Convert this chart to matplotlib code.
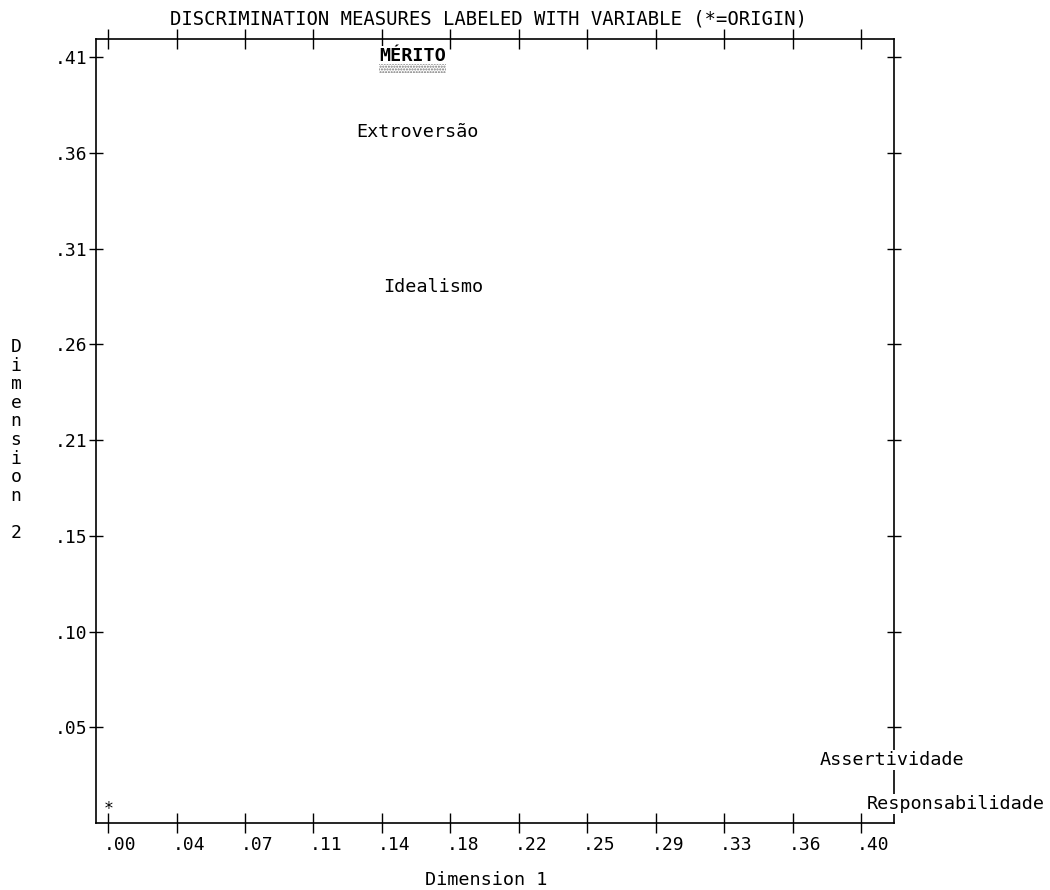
import matplotlib
matplotlib.use('Agg')
import matplotlib.pyplot as plt
import matplotlib.transforms as mtransforms
from matplotlib.patches import Rectangle
import numpy as np

plt.rcParams['font.family'] = ['DejaVu Sans Mono', 'DejaVu Sans']
plt.rcParams['font.size'] = 13

# discrimination measures
variables = ['MÉRITO', 'Extroversão', 'Idealismo', 'Assertividade', 'Responsabilidade']
dim1 = [0.144, 0.132, 0.146, 0.378, 0.403]
dim2 = [0.412, 0.371, 0.288, 0.034, 0.010]

x_labels = ['.00', '.04', '.07', '.11', '.14', '.18', '.22', '.25', '.29', '.33', '.36', '.40']
y_labels = ['.05', '.10', '.15', '.21', '.26', '.31', '.36', '.41']
x_ticks = np.linspace(0.0, 0.40, len(x_labels))
y_ticks = np.linspace(0.36 / 7, 0.36 * 8 / 7, len(y_labels))

fig = plt.figure(figsize=(10.5, 8.9), dpi=100)
ax = fig.add_axes([96 / 1050, 67 / 890, 798 / 1050, 784 / 890])
ax.set_xlim(-0.0064, 0.4175)
ax.set_ylim(0.0, 0.4211)

for s in ax.spines.values():
    s.set_linewidth(1.2)
    s.set_color('black')

ax.set_xticks(x_ticks)
ax.set_xticklabels(x_labels)
ax.set_yticks(y_ticks)
ax.set_yticklabels(y_labels)
ax.tick_params(axis='x', direction='inout', length=14, width=1, top=True, bottom=True,
               labeltop=False, pad=2)
ax.tick_params(axis='y', direction='inout', length=10, width=1, left=True, right=True,
               labelright=False, pad=1)
off = mtransforms.ScaledTranslation(-4 / 100, 0, fig.dpi_scale_trans)
for lab in ax.get_xticklabels():
    lab.set_ha('left')
    lab.set_transform(lab.get_transform() + off)

# origin marker
ax.annotate('*', xy=(0, 0), xytext=(0.5, 10), textcoords='offset points',
            ha='center', va='center', fontsize=12)

texts = []
for name, x, y in zip(variables, dim1, dim2):
    bold = name.isupper()
    t = ax.text(x, y, name, ha='left', va='center', zorder=5, clip_on=False,
                fontsize=13.3, fontweight='bold' if bold else 'normal',
                bbox=dict(boxstyle='square,pad=0.05', fc='white', ec='none'))
    texts.append(t)

fig.text(488 / 1050, (890 - 19) / 890, 'DISCRIMINATION MEASURES LABELED WITH VARIABLE (*=ORIGIN)',
         ha='center', va='center', fontsize=13.6)
fig.text(486 / 1050, 10 / 890, 'Dimension 1', ha='center', va='center', fontsize=13.3)
fig.text(16 / 1050, (890 - 440) / 890, '\n'.join('Dimension 2'), ha='center', va='center',
         linespacing=1.04)

# dotted highlight under the bold label
fig.canvas.draw()
inv = fig.transFigure.inverted()
for t in texts:
    if t.get_fontweight() == 'bold':
        bb = t.get_window_extent()
        (x0, y0), (x1, y1) = inv.transform([(bb.x0, bb.y0 - 8), (bb.x1, bb.y0 + 1)])
        fig.patches.append(Rectangle((x0, y0), x1 - x0, y1 - y0, transform=fig.transFigure,
                                     fill=False, hatch='......', ec='#777777', lw=0))

fig.savefig('out.png', dpi=100)
